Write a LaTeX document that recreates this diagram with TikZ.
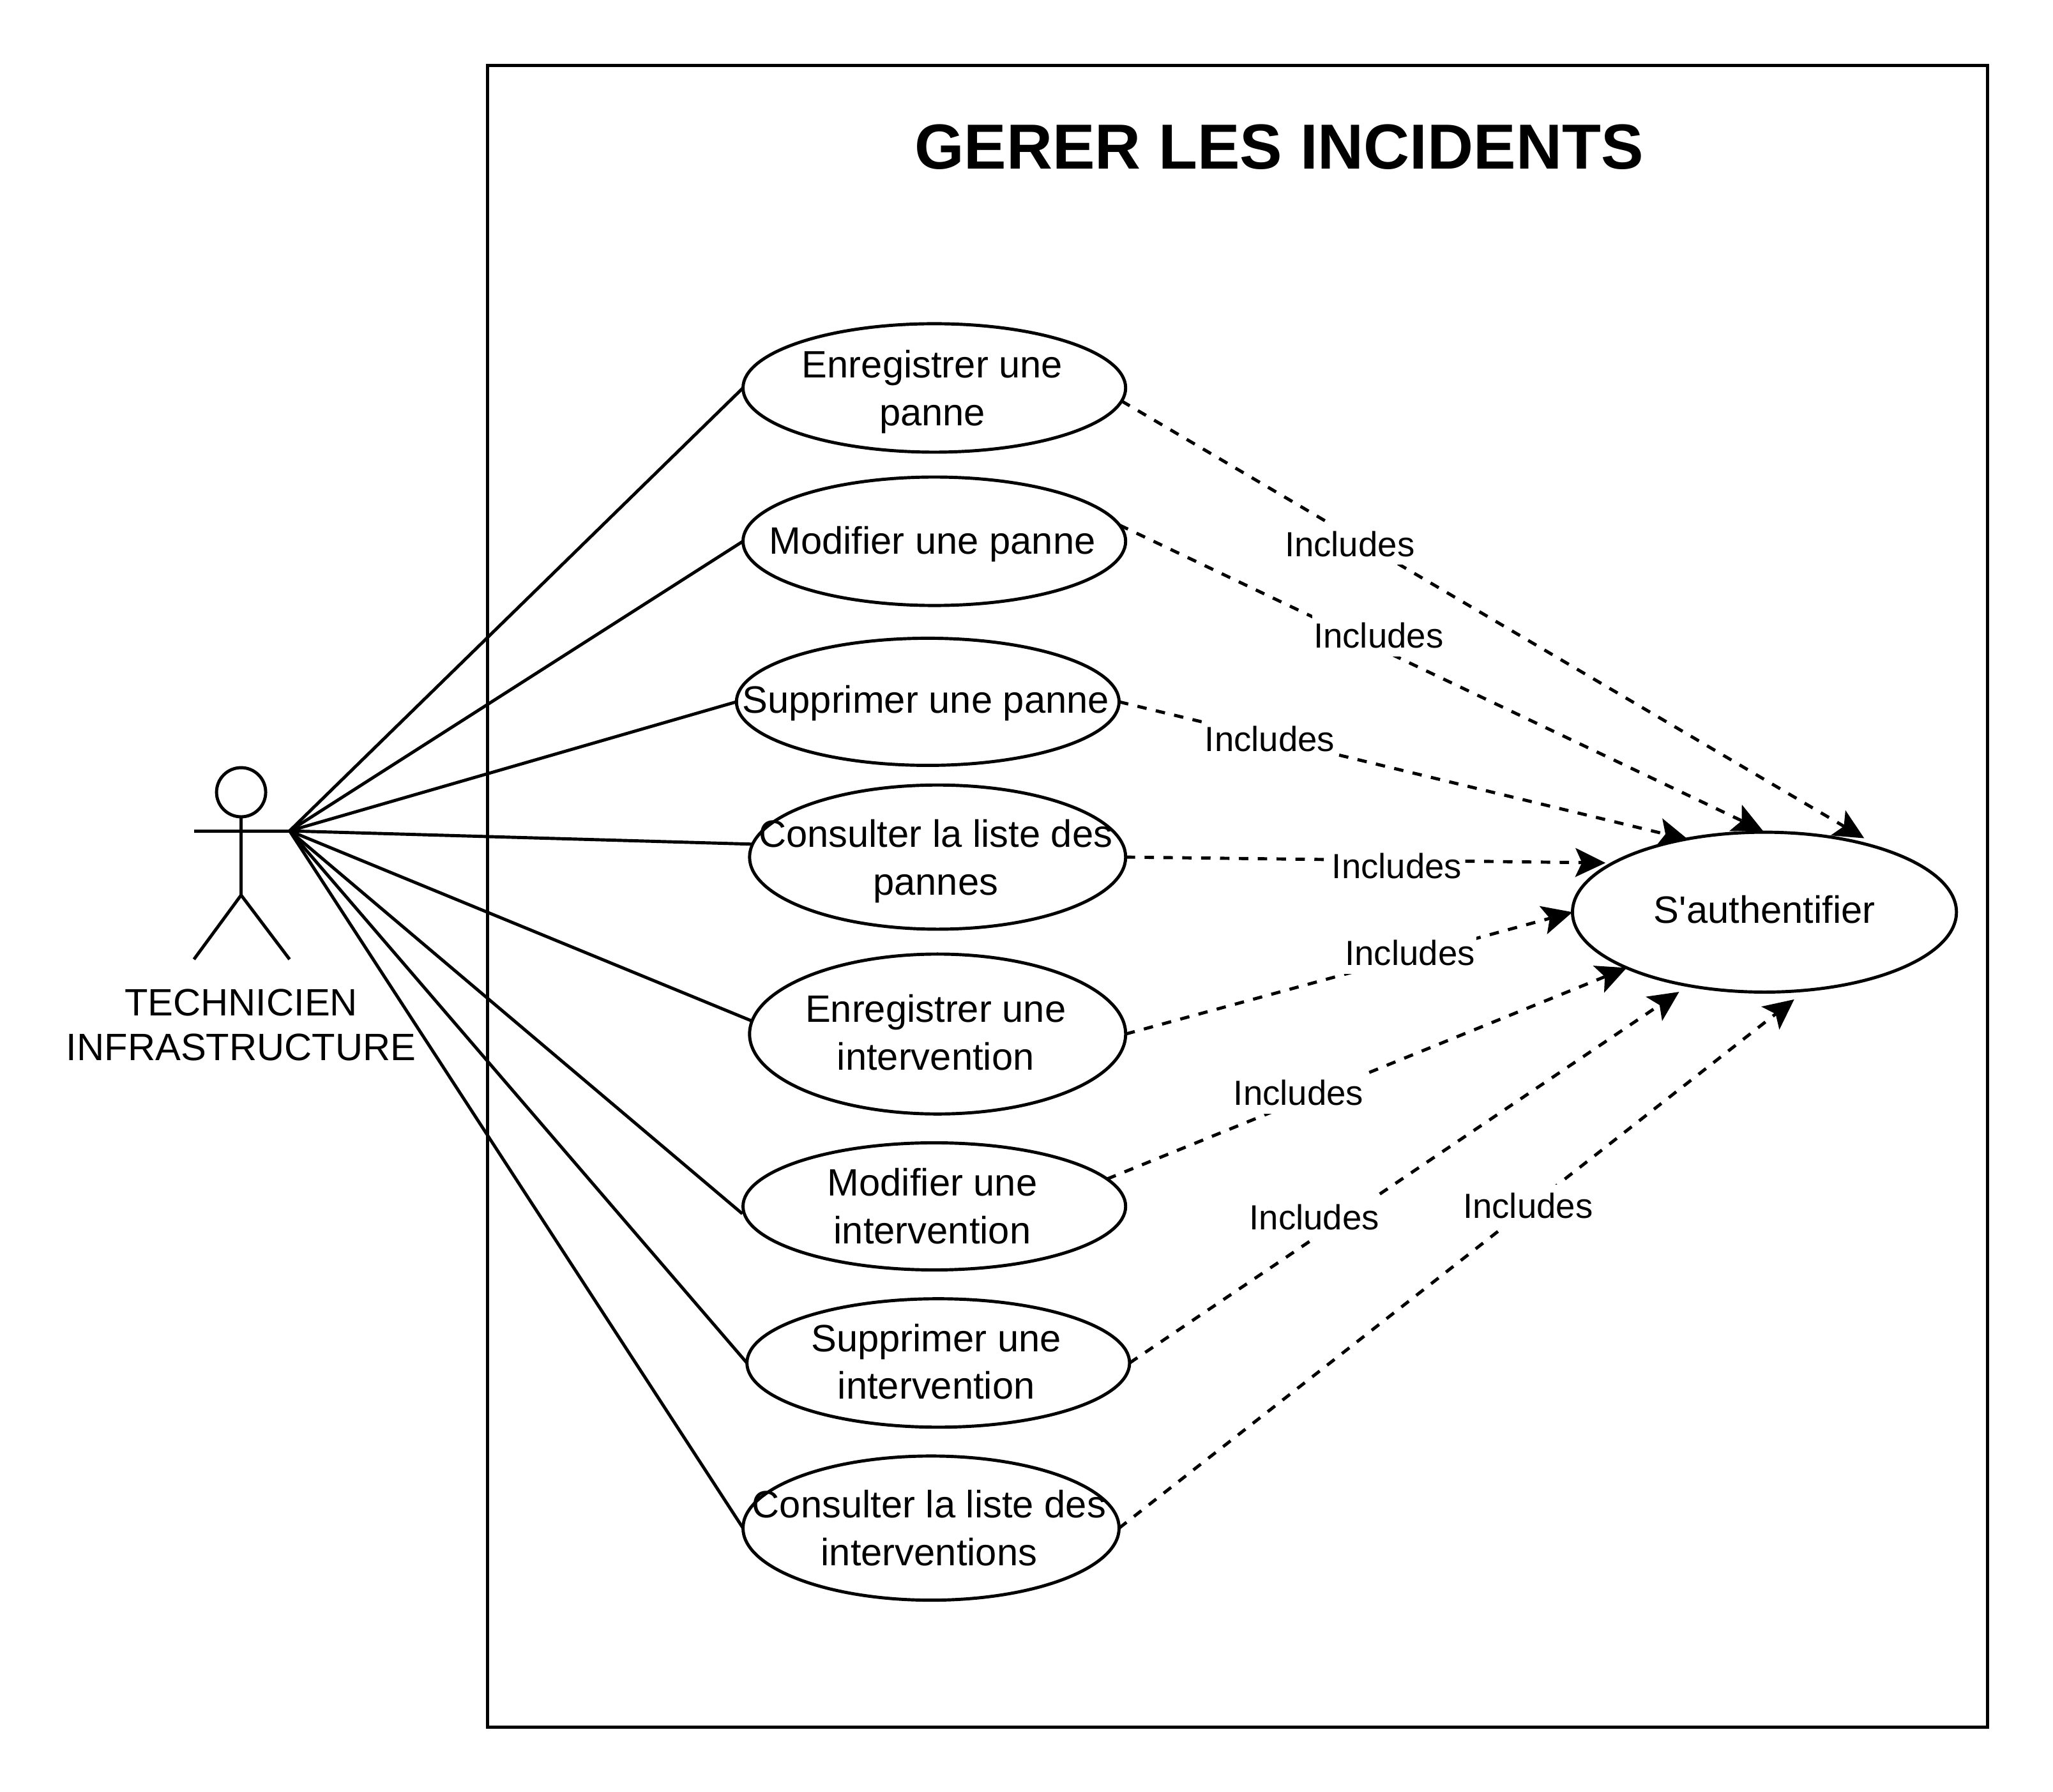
\documentclass[tikz,border=0pt]{standalone}
\usepackage{fontspec}
\setmainfont{Liberation Sans}[Ligatures=TeXOff]
\usetikzlibrary{shapes.geometric,arrows.meta}
\tikzset{
    usecase/.style={draw,ellipse,outer sep=0pt,inner sep=0pt},
    uctext/.style={align=center,inner sep=0pt,xshift=-0.75pt,font=\fontsize{14.55}{18.25}\selectfont},
    inclink/.style={dash pattern=on 3.6pt off 3.6pt,-{Stealth[length=11.5pt,width=11pt,inset=2.5pt]}},
    inclabel/.style={fill=white,inner xsep=0.5pt,inner ysep=0pt,minimum height=16pt,font=\fontsize{13.3}{15}\selectfont}
}
\begin{document}
\begin{tikzpicture}[x=0.5pt,y=-0.5pt,line width=1.2pt]
    \useasboundingbox (0,0) rectangle (1566.7,1367);

    % system
    \draw (372,50) rectangle (1516.5,1318);
    \node[font=\fontsize{24.3}{29}\selectfont\bfseries] (title) at (976,112) {GERER LES INCIDENTS};

    % actor
    \node[draw,circle,outer sep=0pt,minimum size=18.75pt] (head) at (184,604.5) {};
    \coordinate (lhand) at (148,634);
    \coordinate (rhand) at (221,634);
    \coordinate (hip) at (184,683);
    \coordinate (lfoot) at (148,732);
    \coordinate (rfoot) at (221,732);
    \draw (head.south) -- (hip);
    \draw (lhand) -- (rhand);
    \draw (lfoot) -- (hip) -- (rfoot);
    \node[align=center,inner sep=0pt,font=\fontsize{14.55}{17}\selectfont] (actor) at (184,782) {TECHNICIEN\\INFRASTRUCTURE};

    % use cases
    \node[usecase,minimum width=146pt,minimum height=49pt,label={[uctext,name=enrpannetxt,yshift=-1.5pt]center:Enregistrer une\\panne}] (enrpanne) at (713,296) {};
    \node[usecase,minimum width=146pt,minimum height=49pt,label={[uctext,name=modpannetxt,yshift=-1pt]center:Modifier une panne}] (modpanne) at (713,413) {};
    \node[usecase,minimum width=146pt,minimum height=48.5pt,label={[uctext,name=suppannetxt,yshift=-0.5pt]center:Supprimer une panne}] (suppanne) at (708,535.5) {};
    \node[usecase,minimum width=143.5pt,minimum height=55pt,label={[uctext,name=conpannetxt,yshift=-1.5pt]center:Consulter la liste des\\pannes}] (conpanne) at (715.5,654) {};
    \node[usecase,minimum width=143.5pt,minimum height=61pt,label={[uctext,name=enrintertxt,yshift=0.5pt]center:Enregistrer une\\intervention}] (enrinter) at (715.5,789) {};
    \node[usecase,minimum width=146pt,minimum height=48.5pt,label={[uctext,name=modintertxt]center:Modifier une\\intervention}] (modinter) at (713,920.5) {};
    \node[usecase,minimum width=146pt,minimum height=49pt,label={[uctext,name=supintertxt,yshift=0.5pt]center:Supprimer une\\intervention}] (supinter) at (716,1040) {};
    \node[usecase,minimum width=143.5pt,minimum height=55pt,label={[uctext,name=conintertxt]center:Consulter la liste des\\interventions}] (coninter) at (710.5,1166) {};
    \node[usecase,minimum width=146.5pt,minimum height=61pt,label={[uctext,name=authtxt,xshift=0.75pt,yshift=1pt]center:S'authentifier}] (auth) at (1346.5,696) {};

    % actor links
    \draw (rhand) -- (enrpanne.west);
    \draw (rhand) -- (modpanne.west);
    \draw (rhand) -- (suppanne.west);
    \draw (rhand) -- (conpanne.176.8);
    \draw (rhand) -- (enrinter.176.8);
    \draw[shorten >=1.5pt] (rhand) -- (modinter.183.3);
    \draw (rhand) -- (supinter.west);
    \draw (rhand) -- (coninter.west);

    % includes links
    \draw[inclink,shorten >=8.25pt] (enrpanne.356) -- (auth.28.7);
    \draw[inclink,shorten >=1.2pt] (modpanne.5.1) -- (auth.89.4);
    \draw[inclink,shorten >=-0.85pt] (suppanne.east) -- (auth.137.8);
    \draw[inclink,shorten >=2.9pt] (conpanne.east) -- (auth.162.5);
    \draw[inclink] (enrinter.east) -- (auth.west);
    \draw[inclink] (modinter.9.2) -- (auth.202.4);
    \draw[inclink,shorten >=4.3pt] (supinter.east) -- (auth.224.7);
    \draw[inclink,shorten >=5.7pt] (coninter.east) -- (auth.298.6);

    \node[inclabel] (inc1) at (1030,415) {Includes};
    \node[inclabel] (inc2) at (1052,485) {Includes};
    \node[inclabel] (inc3) at (969,564) {Includes};
    \node[inclabel] (inc4) at (1066,661) {Includes};
    \node[inclabel] (inc5) at (1076,727) {Includes};
    \node[inclabel] (inc6) at (991,834) {Includes};
    \node[inclabel] (inc7) at (1003,929) {Includes};
    \node[inclabel] (inc8) at (1166,920) {Includes};
\end{tikzpicture}
\end{document}
